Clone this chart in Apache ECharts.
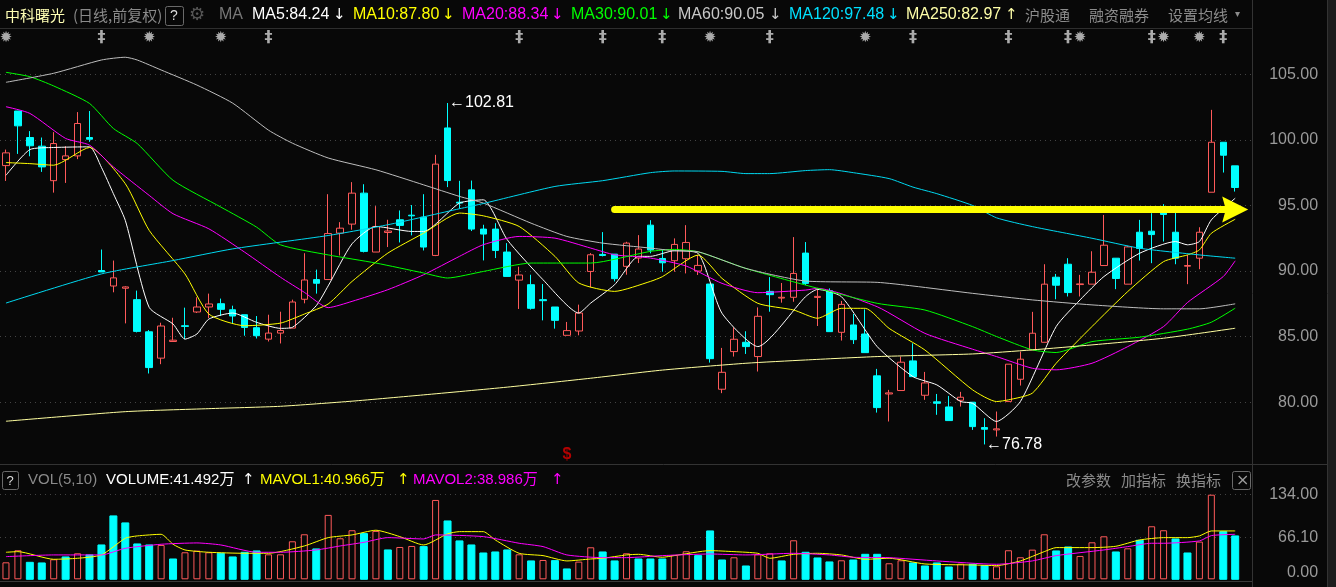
<!DOCTYPE html>
<html><head><meta charset="utf-8">
<script src="https://cdn.jsdelivr.net/npm/echarts@6/dist/echarts.min.js"></script>
<style>html,body{margin:0;padding:0;background:#080808;}#c{width:1336px;height:587px;}</style>
</head><body><div id="c"></div>
<script>
// ---------- daily candles ----------
const opens  = [98.04,102.20,100.18,99.52,96.89,98.50,98.78,100.18,90.04,88.86,88.69,87.82,85.37,83.36,84.63,85.83,86.88,87.26,87.51,87.05,86.67,85.68,84.81,85.27,85.65,87.85,89.35,89.35,92.89,93.58,95.94,91.45,92.94,93.91,94.26,94.11,91.19,100.91,95.25,96.19,93.20,93.20,91.45,89.31,88.96,87.82,87.26,85.10,85.43,89.97,91.27,91.29,90.36,90.99,93.50,90.96,90.79,90.94,90.00,89.01,80.99,83.86,84.57,83.48,88.45,87.94,88.00,91.37,87.99,88.50,85.33,85.89,85.20,82.01,80.63,80.89,83.15,80.53,80.03,79.64,80.15,80.00,78.07,77.89,80.05,81.75,83.99,84.57,89.53,90.52,88.97,89.00,90.42,90.98,89.00,92.96,93.04,94.51,92.96,90.37,90.98,96.01,99.82,98.02];
const closes = [99.01,101.07,99.55,97.94,99.72,98.78,101.25,100.05,89.93,89.48,88.79,85.40,82.64,85.81,84.73,85.78,87.26,87.49,87.08,86.57,85.70,85.07,85.27,85.47,87.64,89.32,89.07,92.86,93.27,95.94,91.50,93.40,93.05,93.48,94.21,91.83,98.15,96.90,95.18,93.20,92.82,91.57,89.59,89.70,87.16,87.74,86.24,85.46,86.80,91.24,91.19,89.42,92.13,91.68,91.60,90.63,92.03,92.18,90.43,83.32,82.28,84.80,84.24,86.55,88.20,88.00,89.82,89.06,88.07,85.38,87.46,84.77,83.78,79.59,80.71,83.05,81.95,81.47,79.92,78.60,80.38,78.14,77.94,77.97,82.90,83.28,85.26,89.00,88.92,88.36,89.02,89.91,91.97,89.43,91.84,91.72,92.78,94.31,90.98,90.42,92.96,99.82,98.83,96.37];
const lows   = [96.87,98.93,98.75,97.56,95.98,96.72,98.53,99.85,89.93,88.38,86.01,85.32,82.19,82.90,84.63,84.81,86.80,86.42,86.57,85.96,85.07,84.86,84.63,84.48,85.65,87.54,88.28,89.35,91.19,93.15,91.42,91.45,91.83,92.18,92.72,91.57,91.14,96.40,94.75,93.05,90.81,90.99,89.59,87.11,87.06,86.24,85.61,85.10,85.10,88.76,91.12,89.21,89.72,90.61,91.35,89.95,89.95,89.82,89.70,83.02,80.69,83.48,83.68,82.34,86.90,87.59,87.66,88.93,85.81,85.38,84.70,84.44,83.78,79.21,78.53,80.89,81.95,80.18,79.04,78.60,79.67,77.89,76.78,77.38,80.05,81.27,83.99,84.57,87.85,88.06,88.06,89.00,90.42,88.62,89.00,90.80,90.60,92.25,90.52,89.00,90.14,96.01,97.51,96.06];
const highs  = [99.26,102.20,100.67,100.18,100.59,99.52,102.12,102.20,91.64,90.80,88.84,88.51,85.50,86.06,86.44,87.21,88.00,88.28,87.90,87.36,86.67,86.57,86.67,86.90,87.82,91.36,90.11,95.86,93.73,96.78,96.62,94.95,93.91,94.62,95.03,95.86,98.86,102.81,96.88,96.90,93.53,93.65,92.13,90.33,89.72,89.01,87.26,86.12,87.44,91.37,92.97,91.29,92.23,92.74,93.88,91.65,92.49,93.50,91.22,89.01,84.14,85.71,85.41,87.23,89.54,89.09,92.59,92.21,88.68,88.68,87.72,86.73,87.08,82.54,80.94,83.48,84.49,82.31,80.63,80.48,80.79,80.00,78.78,79.29,82.90,83.86,86.89,90.52,89.78,90.98,89.71,91.51,94.28,90.98,91.92,93.90,94.41,95.10,94.51,91.23,93.34,102.29,99.82,98.02];
// volume, 万手
const volumes = [26.9,46.0,26.9,25.9,31.7,35.4,41.2,38.6,54.4,100.4,89.3,56.0,54.4,54.4,32.2,42.8,45.4,42.8,41.2,35.4,42.8,44.9,39.6,39.6,60.2,71.3,48.1,102.0,65.0,77.7,72.4,76.6,46.5,51.2,52.8,51.8,125.7,92.4,60.8,54.4,41.7,43.3,46.5,39.6,29.1,30.6,29.6,16.4,28.0,50.7,43.3,29.1,41.2,32.2,32.2,32.2,38.6,44.4,37.5,76.6,30.6,34.9,21.1,39.6,41.2,29.1,61.8,42.8,33.8,27.5,30.1,30.6,39.6,39.6,25.4,30.1,25.9,21.1,25.9,19.5,24.8,23.8,21.7,20.6,46.0,34.9,47.0,71.3,44.9,51.2,37.0,58.6,68.1,43.3,49.1,61.8,84.0,77.7,63.9,41.7,59.7,134.0,75.5,68.7];

// ---------- moving-average lines, [day index, value] ----------
const ma5   = [[0,97.30],[2,99.26],[4,99.42],[7,99.47],[8,97.9],[9,95.9],[10,93.86],[12,87.23],[14,85.96],[15,84.81],[16,85.20],[17,86.34],[19,86.80],[21,86.09],[23,85.63],[24,85.71],[26,87.36],[27,88.87],[29,92.08],[31,93.40],[34,93.02],[35,93.02],[38,95.18],[40,95.43],[42,92.39],[45,89.34],[48,86.80],[49,87.56],[51,88.96],[53,91.12],[54,91.12],[56,91.55],[58,91.35],[60,86.78],[63,84.24],[67,88.05],[68,88.60],[70,88.05],[73,84.24],[76,81.95],[78,81.32],[80,80.05],[81,79.92],[83,78.53],[85,80.05],[88,85.77],[90,87.80],[92,89.58],[95,91.36],[98,92.25],[99,92.00],[100,92.25],[101,93.90],[103,95.55]];
const ma10  = [[0,98.27],[2,98.19],[4,98.07],[7,99.42],[10,96.66],[12,93.10],[15,89.78],[17,86.72],[20,85.83],[23,86.03],[25,86.72],[27,87.49],[29,89.21],[32,91.37],[35,92.89],[38,94.42],[40,94.21],[43,93.40],[46,91.12],[48,89.09],[51,88.45],[54,89.21],[55,89.57],[58,91.22],[60,89.44],[63,87.54],[66,87.03],[68,86.40],[70,87.16],[72,87.16],[74,85.63],[77,83.98],[81,80.94],[83,80.05],[84,80.18],[86,80.69],[88,82.97],[91,85.77],[94,88.44],[97,90.72],[99,91.23],[100,91.61],[101,92.88],[103,93.95]];
const ma20  = [[0,102.53],[2,102.02],[5,100.11],[7,99.60],[9,97.94],[12,95.77],[14,94.37],[17,93.22],[20,91.44],[23,89.53],[25,88.38],[27,87.21],[29,87.69],[32,88.58],[35,89.72],[38,91.12],[40,92.01],[43,92.64],[46,92.51],[49,91.75],[51,91.24],[54,90.99],[57,90.38],[60,89.06],[63,88.35],[67,88.55],[68,88.68],[73,87.28],[77,85.25],[81,84.04],[83,83.48],[86,82.59],[88,82.47],[91,82.97],[94,84.24],[97,85.77],[99,87.60],[102,89.58],[103,90.78]];
const ma30  = [[0,105.15],[2,104.82],[4,104.11],[7,102.78],[9,100.87],[11,99.72],[14,96.92],[18,94.88],[21,93.35],[23,92.00],[27,91.23],[31,90.61],[35,89.85],[37,89.47],[40,89.97],[44,90.61],[49,90.61],[54,91.50],[56,91.65],[58,91.47],[62,90.20],[67,88.93],[73,87.54],[77,87.03],[81,85.76],[83,85.01],[86,83.99],[88,83.79],[91,84.62],[95,84.96],[99,85.57],[101,86.10],[103,87.17]];
const ma60  = [[0,104.39],[4,105.08],[8,106.09],[10,106.30],[11,106.09],[13,105.33],[16,104.18],[19,102.80],[22,100.74],[24,99.75],[27,98.62],[31,97.72],[35,96.57],[38,95.69],[40,95.18],[44,93.65],[47,92.64],[50,92.13],[54,91.75],[56,91.55],[58,91.47],[62,90.20],[67,89.24],[73,89.14],[76,88.86],[81,88.30],[86,87.80],[91,87.42],[97,87.12],[100,87.12],[103,87.50]];
const ma120 = [[0,87.56],[8,89.78],[14,90.80],[19,91.69],[27,92.71],[32,93.53],[38,94.75],[40,95.15],[46,96.45],[50,96.89],[54,97.50],[56,97.63],[60,97.60],[62,97.43],[64,97.43],[67,97.66],[69,97.73],[71,97.50],[74,97.05],[76,96.40],[78,95.90],[81,95.00],[83,94.06],[86,93.39],[91,92.50],[95,91.74],[100,91.23],[103,90.98]];
const ma250 = [[0,78.55],[10,79.28],[17,79.51],[23,79.69],[29,80.08],[35,80.56],[42,81.15],[49,81.83],[55,82.45],[62,82.97],[67,83.22],[73,83.48],[81,83.68],[86,83.99],[91,84.37],[97,84.88],[103,85.64]];
const mavol1 = [[0,42.8],[1,43.8],[4,31.7],[6,33.3],[8,38.6],[10,65.0],[11,68.7],[13,71.3],[14,55.5],[15,46.5],[17,42.8],[20,41.2],[22,41.2],[25,52.8],[27,66.0],[29,70.3],[31,77.7],[33,67.6],[35,54.4],[37,72.0],[38,75.5],[40,75.5],[41,62.3],[43,41.2],[45,37.5],[47,29.1],[49,32.2],[50,33.3],[52,38.6],[53,39.6],[55,34.9],[56,37.5],[59,45.4],[61,43.8],[63,41.2],[64,33.3],[66,39.6],[68,41.2],[70,38.6],[72,31.7],[74,33.3],[77,24.3],[81,22.7],[83,21.7],[85,29.1],[87,43.8],[88,50.2],[91,50.2],[93,52.3],[95,62.3],[97,66.0],[99,66.0],[100,68.7],[101,76.6],[103,76.6]];
const mavol2 = [[0,35.9],[4,38.6],[8,38.6],[10,49.1],[13,55.5],[16,57.6],[18,54.4],[21,42.8],[23,42.8],[26,46.5],[28,52.8],[30,58.6],[32,66.0],[35,63.9],[36,70.3],[40,67.6],[43,57.1],[45,51.8],[47,38.6],[50,34.3],[52,34.3],[55,37.5],[59,40.1],[62,38.6],[66,41.2],[69,38.6],[71,34.9],[74,34.3],[78,29.1],[83,23.8],[86,29.1],[88,37.5],[92,46.5],[94,51.8],[96,57.1],[97,57.1],[100,60.8],[101,69.2],[103,71.3]];

// ---------- event markers and annotation ----------
const starDays = [0,12,18,59,72,90,97,100];
const flagDays = [8,22,43,50,55,64,76,84,89,96,102];
const dividendDays = [47];
const arrowFrom = 51, arrowTo = 103, arrowLevel = 94.70;

// ---------- axis tick labels / header texts ----------
const priceTicks = [80,85,90,95,100,105];
const volTicks = [0.00, 66.10, 134.00];
const maHeader = [
  {t:'MA5:84.24',  a:'↓', c:'#ffffff', x:252, ax:333},
  {t:'MA10:87.80', a:'↓', c:'#ffff00', x:353, ax:442},
  {t:'MA20:88.34', a:'↓', c:'#ff00ff', x:462, ax:551},
  {t:'MA30:90.01', a:'↓', c:'#00ff00', x:571, ax:660},
  {t:'MA60:90.05', a:'↓', c:'#c8c8c8', x:678, ax:769},
  {t:'MA120:97.48',a:'↓', c:'#00e0ff', x:789, ax:887},
  {t:'MA250:82.97',a:'↑', c:'#ffffa8', x:906, ax:1005}
];
const volHeader = [
  {t:'VOL(5,10)', c:'#8a8a8a', x:28},
  {t:'VOLUME:41.492万', c:'#ffffff', x:106}, {t:'↑', c:'#ffffff', x:242},
  {t:'MAVOL1:40.966万', c:'#ffff00', x:260}, {t:'↑', c:'#ffff00', x:397},
  {t:'MAVOL2:38.986万', c:'#ff00ff', x:413}, {t:'↑', c:'#ff00ff', x:551}
];

const cats = closes.map((_, i) => String(i + 1));
const RED = '#ff5a5a', CYAN = '#00ffff', BG = '#080808';
const FONT = '"Liberation Sans","Noto Sans CJK SC",sans-serif';
const CJK = '"Noto Sans CJK SC","Liberation Sans",sans-serif';

const candleData = opens.map((o, i) => [o, closes[i], lows[i], highs[i]]);
const volData = volumes.map((v, i) => {
  const up = i === 0 ? true : closes[i] >= closes[i - 1];
  return { value: v, itemStyle: up ? { color: BG, borderColor: RED, borderWidth: 1 } : { color: CYAN, borderColor: CYAN } };
});

function txt(x, y, t, c, size, fam, extra) {
  return Object.assign({ type: 'text', x: x, y: y, silent: true,
    style: { text: t, fill: c, font: size + 'px ' + (fam || FONT), textAlign: 'left', textVerticalAlign: 'middle', align: 'left', verticalAlign: 'middle' } }, extra || {});
}
function hline(x1, x2, y, c) { return { type: 'line', silent: true, shape: { x1: x1, y1: y, x2: x2, y2: y }, style: { stroke: c, lineWidth: 1 } }; }
function vline(x, y1, y2, c) { return { type: 'line', silent: true, shape: { x1: x, y1: y1, x2: x, y2: y2 }, style: { stroke: c, lineWidth: 1 } }; }
function box(x, y, w, h) { return { type: 'rect', silent: true, shape: { x: x, y: y, width: w, height: h, r: 2 }, style: { fill: 'none', stroke: '#6a6a6a', lineWidth: 1 } }; }

const graphic = [
  hline(0, 1252, 28.5, '#2e2e2e'),
  hline(0, 1327, 464.5, '#333333'),
  hline(0, 1252, 581.5, '#3a3a3a'),
  vline(1252.5, 0, 587, '#333333'),
  vline(1327.5, 0, 587, '#333333'),
  { type: 'rect', silent: true, shape: { x: 1328, y: 0, width: 8, height: 587 }, style: { fill: '#1d1d1d' } },
  txt(5, 15, '中科曙光', '#ffffb4', 15, CJK),
  txt(73, 15, '(日线,前复权)', '#8a8a8a', 15, CJK),
  box(165.5, 6.5, 18, 19),
  txt(170, 16, '?', '#dddddd', 14),
  txt(189, 15, '⚙', '#555555', 18, '"DejaVu Sans",sans-serif'),
  txt(219, 15, 'MA', '#777777', 16),
  txt(1025, 15, '沪股通', '#8c8c8c', 15, CJK),
  txt(1089, 15, '融资融券', '#8c8c8c', 15, CJK),
  txt(1168, 15, '设置均线', '#8c8c8c', 15, CJK),
  txt(1235, 14, '▾', '#8c8c8c', 10, '"DejaVu Sans",sans-serif'),
  box(2.5, 471.5, 16, 18),
  txt(6.5, 481, '?', '#dddddd', 13),
  txt(1066, 480, '改参数', '#8a8a8a', 15, CJK),
  txt(1121, 480, '加指标', '#8a8a8a', 15, CJK),
  txt(1176, 480, '换指标', '#8a8a8a', 15, CJK),
  box(1232.5, 471.5, 18, 18),
  txt(1236, 480.5, '×', '#9a9a9a', 16, '"DejaVu Sans",sans-serif')
];
maHeader.forEach(m => {
  graphic.push(txt(m.x, 15, m.t, m.c, 16));
  graphic.push(txt(m.ax, 15, m.a, m.c, 15, '"DejaVu Sans",sans-serif'));
});
volHeader.forEach(m => graphic.push(txt(m.x, 480, m.t, m.c, 15, m.t.length === 1 ? '"DejaVu Sans",sans-serif' : FONT)));

const GRID_L = -1.7, GRID_R = 82.9;
const hiddenX = (gi) => ({ type: 'category', gridIndex: gi, data: cats, max: cats.length, boundaryGap: true,
  axisLine: { show: false }, axisTick: { show: false }, axisLabel: { show: false }, splitLine: { show: false } });
const maLine = (name, data, color) => ({ name: name, type: 'line', xAxisIndex: 0, yAxisIndex: 0, data: data,
  symbol: 'none', smooth: 0.2, lineStyle: { color: color, width: 1 }, silent: true, z: 3 });

const option = {
  backgroundColor: BG,
  animation: false,
  textStyle: { fontFamily: FONT },
  grid: [
    { left: GRID_L, right: GRID_R, top: 48.07, bottom: 587 - 467.8 },
    { left: GRID_L, right: GRID_R, top: 494.7, bottom: 587 - 579.3 },
    { left: GRID_L, right: GRID_R, top: 30, height: 16 }
  ],
  xAxis: [hiddenX(0), hiddenX(1), hiddenX(2)],
  yAxis: [
    { type: 'value', gridIndex: 0, position: 'right', min: 75, max: 107, interval: 5,
      axisLine: { show: false }, axisTick: { show: false },
      axisLabel: { showMinLabel: false, showMaxLabel: false, align: 'right', margin: 65, color: '#9a9a9a', fontSize: 16,
        formatter: v => priceTicks.indexOf(v) >= 0 ? v.toFixed(2) : '' },
      splitLine: { show: true, lineStyle: { color: ['rgba(0,0,0,0)', '#444', '#444', '#444', '#444', '#444', '#444', 'rgba(0,0,0,0)'], type: [1, 4], width: 1 } } },
    { type: 'value', gridIndex: 1, position: 'right', min: volTicks[0], max: volTicks[2], interval: volTicks[1],
      axisLine: { show: false }, axisTick: { show: false },
      axisLabel: { align: 'right', margin: 65, color: '#9a9a9a', fontSize: 16,
        formatter: v => {
          const hit = volTicks.find(t => Math.abs(t - v) < 0.01);
          if (hit === undefined) return '';
          return hit === 0 ? '{z|0.00}' : hit.toFixed(2);
        },
        rich: { z: { color: '#9a9a9a', fontSize: 16, padding: [0, 0, 14, 0] } } },
      splitLine: { show: true, lineStyle: { color: ['rgba(0,0,0,0)', '#444', 'rgba(0,0,0,0)', '#444'], type: [1, 4], width: 1 } } },
    { type: 'value', gridIndex: 2, min: 0, max: 1, show: false }
  ],
  series: [
    { name: 'K', type: 'candlestick', xAxisIndex: 0, yAxisIndex: 0, data: candleData, barWidth: 7,
      itemStyle: { color: BG, color0: CYAN, borderColor: RED, borderColor0: CYAN, borderWidth: 1 },
      markPoint: { symbol: 'rect', symbolSize: 1, itemStyle: { color: 'rgba(0,0,0,0)' }, silent: true,
        label: { show: true, position: 'right', distance: 1, color: '#ffffff', fontSize: 16, fontFamily: FONT,
          formatter: p => '←' + Number(p.value).toFixed(2) },
        data: [ { type: 'max', valueDim: 'highest' }, { type: 'min', valueDim: 'lowest' } ] } },
    maLine('MA5', ma5, '#ffffff'),
    maLine('MA10', ma10, '#ffff00'),
    maLine('MA20', ma20, '#ff00ff'),
    maLine('MA30', ma30, '#00ff00'),
    maLine('MA60', ma60, '#bdbdbd'),
    maLine('MA120', ma120, '#00d8f0'),
    Object.assign(maLine('MA250', ma250, '#ffffa0'), {
      markLine: { silent: true, symbol: ['none', 'path://M50,0 L100,100 L50,86 L0,100 Z'], symbolSize: 26,
        symbolKeepAspect: false,
        label: { show: false }, emphasis: { disabled: true },
        itemStyle: { color: '#ffff00' },
        lineStyle: { color: '#ffff00', width: 7, type: 'solid', cap: 'round' },
        data: [[ { coord: [arrowFrom, arrowLevel] }, { coord: [arrowTo, arrowLevel] } ]] } }),
    { name: 'div', type: 'scatter', xAxisIndex: 0, yAxisIndex: 0, silent: true, symbolSize: 1,
      itemStyle: { color: 'rgba(0,0,0,0)' },
      data: dividendDays.map(d => [d, 76.0]),
      label: { show: true, position: 'inside', formatter: '$', color: '#e00000', fontSize: 16, fontWeight: 'bold' } },
    { name: 'VOL', type: 'bar', xAxisIndex: 1, yAxisIndex: 1, data: volData, barWidth: 7, silent: true },
    { name: 'MAVOL1', type: 'line', xAxisIndex: 1, yAxisIndex: 1, data: mavol1, symbol: 'none', smooth: 0.2, silent: true,
      lineStyle: { color: '#ffff00', width: 1 }, z: 3 },
    { name: 'MAVOL2', type: 'line', xAxisIndex: 1, yAxisIndex: 1, data: mavol2, symbol: 'none', smooth: 0.2, silent: true,
      lineStyle: { color: '#ff00ff', width: 1 }, z: 3 },
    { name: 'stars', type: 'scatter', xAxisIndex: 2, yAxisIndex: 2, silent: true, symbolSize: 1,
      itemStyle: { color: 'rgba(0,0,0,0)' }, data: starDays.map(d => [d, 0.5]),
      label: { show: true, position: 'inside', formatter: '✹', color: '#d4d4d4', fontSize: 15, fontFamily: '"DejaVu Sans",sans-serif' } },
    { name: 'flags', type: 'scatter', xAxisIndex: 2, yAxisIndex: 2, silent: true, symbolSize: 1,
      itemStyle: { color: 'rgba(0,0,0,0)' }, data: flagDays.map(d => [d, 0.5]),
      label: { show: true, position: 'inside', formatter: '‡', color: '#d4d4d4', fontSize: 16, fontWeight: 'bold', fontFamily: '"DejaVu Sans",sans-serif' } }
  ],
  graphic: graphic
};

const chart = echarts.init(document.getElementById('c'), null, { renderer: 'canvas' });
chart.setOption(option);
</script>
</body></html>
